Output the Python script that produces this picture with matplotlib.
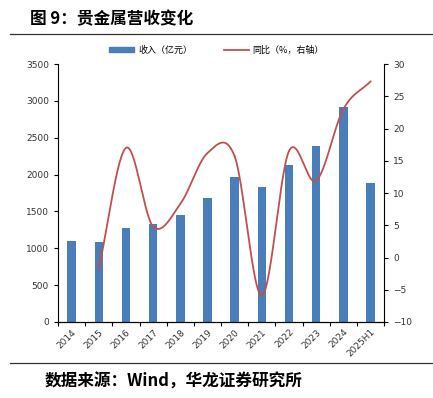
import numpy as np
import matplotlib.pyplot as plt
from matplotlib.lines import Line2D
from matplotlib.patches import Patch

plt.rcParams['font.family'] = ['Noto Sans CJK SC', 'DejaVu Sans']
plt.rcParams['axes.unicode_minus'] = True

# -------------------------------
# Data
# -------------------------------
years = ['2014', '2015', '2016', '2017', '2018', '2019', '2020',
         '2021', '2022', '2023', '2024', '2025H1']
revenue = [1105, 1090, 1275, 1334, 1448, 1687, 1962, 1836, 2134, 2385, 2913, 1887]
yoy = [np.nan, -1.7, 17.0, 4.8, 8.3, 16.2, 15.7, -5.9, 16.5, 11.9, 23.0, 27.3]

bar_color = '#4a7ebb'
line_color = '#c0504d'


def smooth(x, y, n=30):
    # Catmull-Rom spline through the points (Excel style smoothed line)
    x = np.asarray(x, float)
    y = np.asarray(y, float)
    px = np.concatenate([[2 * x[0] - x[1]], x, [2 * x[-1] - x[-2]]])
    py = np.concatenate([[2 * y[0] - y[1]], y, [2 * y[-1] - y[-2]]])
    xs, ys = [], []
    t = np.linspace(0, 1, n)
    for i in range(1, len(px) - 2):
        for p, out in ((px, xs), (py, ys)):
            p0, p1, p2, p3 = p[i - 1], p[i], p[i + 1], p[i + 2]
            out.append(0.5 * ((2 * p1) + (-p0 + p2) * t
                              + (2 * p0 - 5 * p1 + 4 * p2 - p3) * t ** 2
                              + (-p0 + 3 * p1 - 3 * p2 + p3) * t ** 3))
    return np.concatenate(xs), np.concatenate(ys)


# -------------------------------
# Figure
# -------------------------------
fig = plt.figure(figsize=(4.33, 3.98), dpi=100)
ax = fig.add_axes([0.134, 0.191, 0.753, 0.648])
x = np.arange(len(years))
ax.bar(x, revenue, width=0.31, color=bar_color, zorder=2)
ax.set_xlim(-0.5, len(years) - 0.5)
ax.set_ylim(0, 3500)
ax.set_yticks(np.arange(0, 3501, 500))
ax.set_xticks(np.arange(-0.5, len(years), 1), minor=False)
ax.set_xticklabels([])
ax.set_xticks(x, minor=True)
ax.set_xticklabels(years, minor=True, rotation=45, ha='right',
                   rotation_mode='anchor', fontsize=6.5, color='#333333',
                   family='DejaVu Sans')
ax.tick_params(axis='x', which='minor', length=0, pad=4)
ax.tick_params(axis='x', which='major', length=3, width=0.8, direction='out')
ax.tick_params(axis='y', labelsize=6.5, length=3, width=0.8, labelcolor='#333333')
for lab in ax.get_yticklabels():
    lab.set_family('DejaVu Sans')
ax.spines['top'].set_visible(False)
ax.spines['right'].set_visible(False)

ax2 = ax.twinx()
mask = ~np.isnan(yoy)
sx, sy = smooth(x[mask], np.array(yoy)[mask])
ax2.plot(sx, sy, color=line_color, lw=1.3, zorder=3)
ax2.set_ylim(-10, 30)
ax2.set_yticks(np.arange(-10, 31, 5))
ax2.tick_params(axis='y', labelsize=6.5, length=3, width=0.8, labelcolor='#333333')
for lab in ax2.get_yticklabels():
    lab.set_family('DejaVu Sans')
ax2.spines['top'].set_visible(False)
ax2.spines['left'].set_visible(False)

# legend
handles = [Patch(color=bar_color, label='收入（亿元）'),
           Line2D([0], [0], color=line_color, lw=1.3, label='同比（%，右轴）')]
fig.legend(handles=handles, loc='center', bbox_to_anchor=(0.5, 0.874),
           ncol=2, frameon=False, fontsize=6.5, handlelength=2.8,
           handleheight=0.5, columnspacing=3.5, handletextpad=0.4)

# title, rules and source
fig.text(0.069, 0.952, '图 9：贵金属营收变化', fontsize=12, fontweight='bold',
         va='center', ha='left')
fig.add_artist(Line2D([0.023, 1.0], [0.915, 0.915], color='#333333', lw=0.9))
fig.add_artist(Line2D([0.023, 1.0], [0.088, 0.088], color='#333333', lw=0.9))
fig.text(0.104, 0.042, '数据来源：Wind，华龙证券研究所', fontsize=12,
         fontweight='bold', va='center', ha='left')

fig.savefig('out.png', dpi=100)
